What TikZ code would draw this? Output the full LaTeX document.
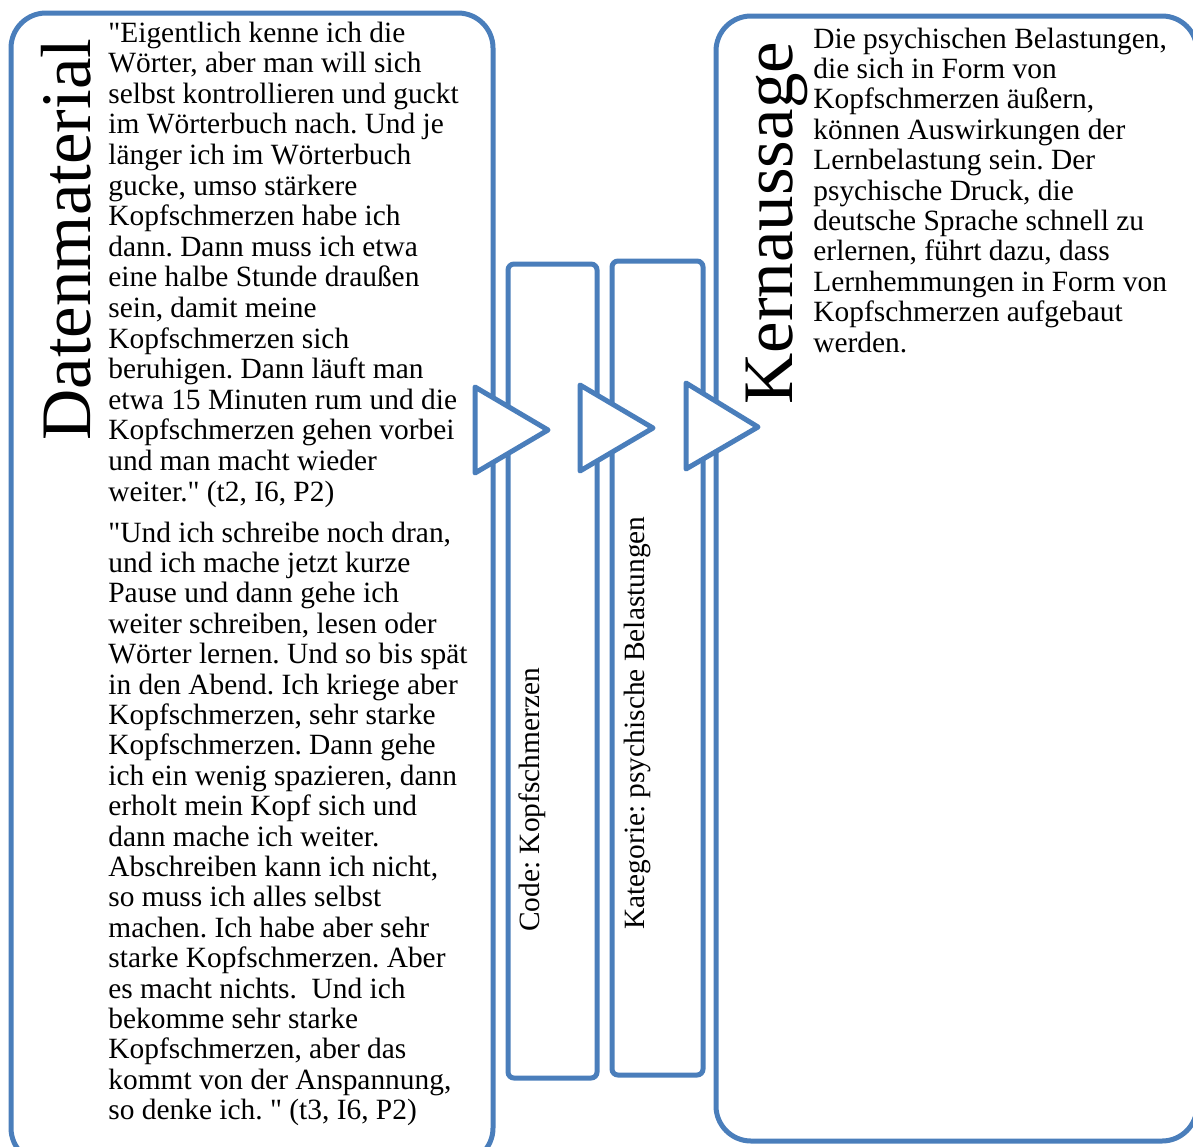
\documentclass[tikz,border=0pt]{standalone}
\usepackage{fontspec}
\setmainfont{Liberation Serif}[Ligatures=TeXOff]
\definecolor{frameblue}{RGB}{74,126,187}
\frenchspacing
\begin{document}
\begin{tikzpicture}[x=0.5pt,y=-0.5pt,
  boxframe/.style={draw=frameblue, line width=2.5pt, fill=white, inner sep=0pt, outer sep=0pt, shape=rectangle},
  panel/.style={boxframe, rounded corners=17.5pt},
  barbox/.style={boxframe, rounded corners=3pt},
  pointer/.style={draw=frameblue, line width=2.5pt, fill=white, line join=round},
  bodytext/.style={anchor=base west, inner sep=0pt, font=\fontsize{14.7pt}{15.3pt}\selectfont},
  secondtext/.style={anchor=base west, inner sep=0pt, font=\fontsize{14.7pt}{15.2pt}\selectfont},
  righttext/.style={anchor=base west, inner sep=0pt, font=\fontsize{14.7pt}{15.2pt}\selectfont},
  headline/.style={anchor=base west, inner sep=0pt, rotate=90, font=\fontsize{35.5pt}{40pt}\selectfont},
  barlabel/.style={anchor=base west, inner sep=0pt, rotate=90, font=\fontsize{14.7pt}{17pt}\selectfont}]
\useasboundingbox (0,0) rectangle (1193,1146);
\clip (0,0) rectangle (1193,1146);

% outer panels and the two middle bars
\node[panel, minimum width=241pt, minimum height=575pt] (data) at (252,588) {};
\node[panel, minimum width=240.5pt, minimum height=562.5pt] (core) at (956.5,578.5) {};
\node[barbox, minimum width=44.5pt, minimum height=407pt] (code) at (552.5,671) {};
\node[barbox, minimum width=45.5pt, minimum height=407pt] (cat) at (657.5,668) {};

% arrow heads between the stages
\draw[pointer] (475,387) -- (548,430) -- (475,473) -- cycle;
\draw[pointer] (580,385) -- (653,428) -- (580,471) -- cycle;
\draw[pointer] (686,383) -- (758,427) -- (686,469) -- cycle;

% headings
\node[headline] (dataTitle) at (90,441) {Datenmaterial};
\node[headline] (coreTitle) at (792,405) {Kernaussage};
\node[barlabel] (codeLabel) at (539,932) {Code: Kopfschmerzen};
\node[barlabel] (catLabel) at (644,930) {Kategorie: psychische Belastungen};

% quotes
\node[bodytext] (quoteA) at (108,42) {\parbox[t]{200pt}{\raggedright
"Eigentlich kenne ich die\\
Wörter, aber man will sich\\
selbst kontrollieren und guckt\\
im Wörterbuch nach. Und je\\
länger ich im Wörterbuch\\
gucke, umso stärkere\\
Kopfschmerzen habe ich\\
dann. Dann muss ich etwa\\
eine halbe Stunde draußen\\
sein, damit meine\\
Kopfschmerzen sich\\
beruhigen. Dann läuft man\\
etwa 15 Minuten rum und die\\
Kopfschmerzen gehen vorbei\\
und man macht wieder\\
weiter." (t2, I6, P2)}};

\node[secondtext] (quoteB) at (108,542) {\parbox[t]{200pt}{\raggedright
"Und ich schreibe noch dran,\\
und ich mache jetzt kurze\\
Pause und dann gehe ich\\
weiter schreiben, lesen oder\\
Wörter lernen. Und so bis spät\\
in den Abend. Ich kriege aber\\
Kopfschmerzen, sehr starke\\
Kopfschmerzen. Dann gehe\\
ich ein wenig spazieren, dann\\
erholt mein Kopf sich und\\
dann mache ich weiter.\\
Abschreiben kann ich nicht,\\
so muss ich alles selbst\\
machen. Ich habe aber sehr\\
starke Kopfschmerzen. Aber\\
es macht nichts.\ \ Und ich\\
bekomme sehr starke\\
Kopfschmerzen, aber das\\
kommt von der Anspannung,\\
so denke ich.\ " (t3, I6, P2)}};

% core statement
\node[righttext] (statement) at (813,48) {\parbox[t]{200pt}{\raggedright
Die psychischen Belastungen,\\
die sich in Form von\\
Kopfschmerzen äußern,\\
können Auswirkungen der\\
Lernbelastung sein. Der\\
psychische Druck, die\\
deutsche Sprache schnell zu\\
erlernen, führt dazu, dass\\
Lernhemmungen in Form von\\
Kopfschmerzen aufgebaut\\
werden.}};
\end{tikzpicture}
\end{document}
